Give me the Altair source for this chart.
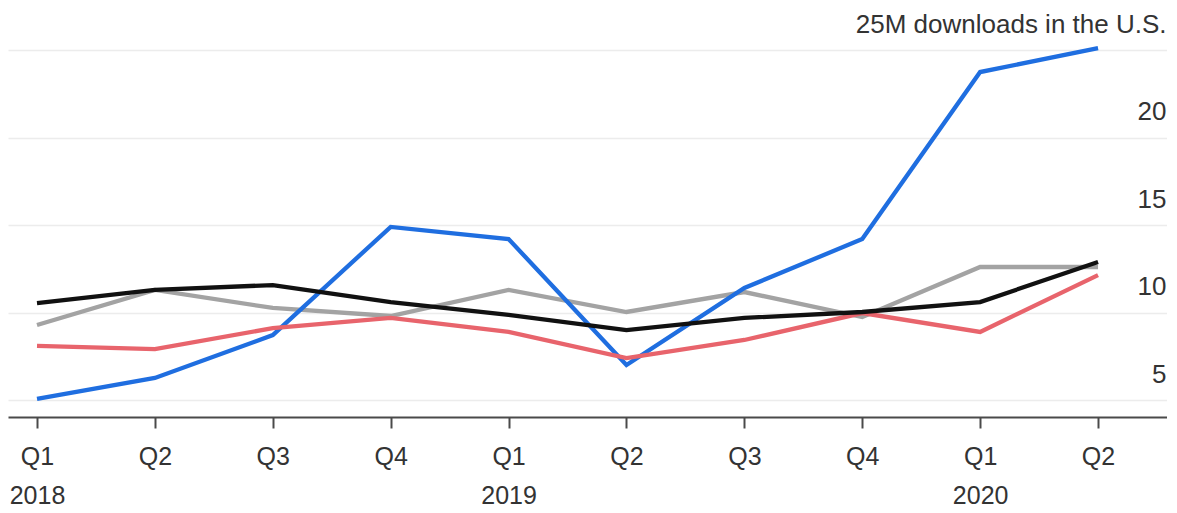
import json
import altair as alt
import pandas as pd

quarters = ["Q1", "Q2", "Q3", "Q4", "Q1", "Q2", "Q3", "Q4", "Q1", "Q2"]
years = ["2018", "", "", "", "2019", "", "", "", "2020", ""]

series_names = ["Gray", "Blue", "Red", "Black"]
series_colors = ["#a3a3a3", "#1f6ee0", "#e8646c", "#111111"]

gray = [9.29, 11.29, 10.26, 9.80, 11.29, 10.03, 11.17, 9.74, 12.60, 12.60]
blue = [5.06, 6.26, 8.71, 14.89, 14.20, 7.00, 11.40, 14.20, 23.74, 25.11]
red = [8.09, 7.91, 9.11, 9.69, 8.89, 7.40, 8.43, 9.97, 8.89, 12.14]
black = [10.54, 11.29, 11.57, 10.60, 9.86, 9.00, 9.69, 10.03, 10.60, 12.89]

rows = []
for name, vals in zip(series_names, [gray, blue, red, black]):
    for i, v in enumerate(vals):
        rows.append({"series": name, "idx": i, "value": v})
df = pd.DataFrame(rows)

q_js = json.dumps(quarters)
y_js = json.dumps(years)
x_label_expr = f"[{q_js}[datum.value], {y_js}[datum.value]]"
y_label_expr = "datum.value == 25 ? '25M downloads in the U.S.' : datum.label"

FONT = "Liberation Sans"

chart = (
    alt.Chart(df)
    .mark_line(strokeWidth=4.3)
    .encode(
        x=alt.X(
            "idx:Q",
            scale=alt.Scale(domain=[-0.246, 9.585], nice=False, zero=False),
            axis=alt.Axis(
                values=list(range(10)),
                labelExpr=x_label_expr,
                grid=False,
                domain=True,
                domainColor="#4a4a4a",
                domainWidth=2,
                ticks=True,
                tickColor="#4a4a4a",
                tickWidth=2,
                tickSize=11,
                labelPadding=16,
                labelFontSize=25,
                labelLineHeight=39,
                labelColor="#333333",
                labelFont=FONT,
                title=None,
            ),
        ),
        y=alt.Y(
            "value:Q",
            scale=alt.Scale(domain=[4.03, 27.4], nice=False, zero=False),
            axis=alt.Axis(
                orient="right",
                values=[5, 10, 15, 20, 25],
                labelExpr=y_label_expr,
                grid=True,
                gridColor="#ececec",
                gridWidth=1.5,
                domain=False,
                ticks=False,
                labelAlign="right",
                labelBaseline="middle",
                labelOffset=-26,
                labelPadding=-1,
                labelFontSize=26,
                labelLimit=600,
                labelColor="#333333",
                labelFont=FONT,
                title=None,
            ),
        ),
        color=alt.Color(
            "series:N",
            scale=alt.Scale(domain=series_names, range=series_colors),
            legend=None,
        ),
        order=alt.Order("idx:Q"),
    )
    .properties(width=1159, height=409, padding=0)
    .configure(font=FONT)
    .configure_view(stroke=None)
)

chart.save("out.html", embed_options={"renderer": "svg", "actions": False})
